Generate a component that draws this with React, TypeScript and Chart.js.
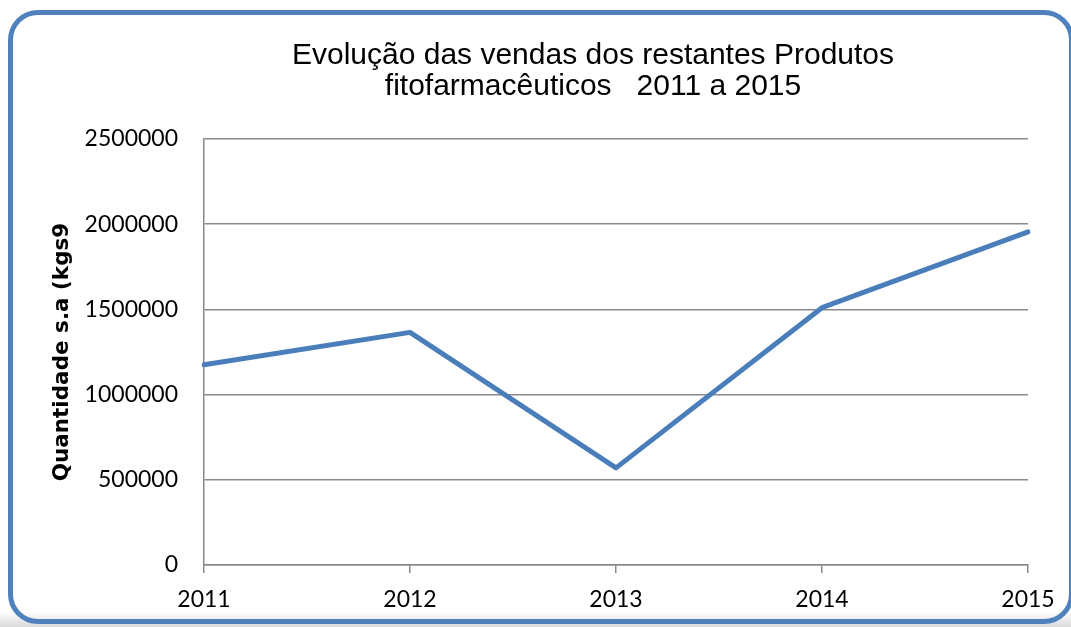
import React, { useEffect, useRef } from 'react';
import { Chart, registerables } from 'chart.js';

Chart.register(...registerables);

const categories = ['2011', '2012', '2013', '2014', '2015'];
const salesKg = [1175000, 1365000, 570000, 1510000, 1955000];
const yTickValues = [0, 500000, 1000000, 1500000, 2000000, 2500000];
const titleLines = ['Evolução das vendas dos restantes Produtos', 'fitofarmacêuticos   2011 a 2015'];
const yAxisTitle = 'Quantidade s.a (kgs9';

const GRID = '#898989';
const LINE = '#4a7ebb';

export default function App() {
  const ref = useRef<HTMLCanvasElement | null>(null);

  useEffect(() => {
    if (!ref.current) return;
    const chart = new Chart(ref.current, {
      type: 'line',
      data: {
        labels: categories,
        datasets: [
          {
            data: salesKg,
            yAxisID: 'y',
            borderColor: LINE,
            backgroundColor: LINE,
            borderWidth: 5,
            pointRadius: 0,
            tension: 0,
            borderCapStyle: 'round',
            borderJoinStyle: 'round',
          },
        ],
      },
      options: {
        responsive: false,
        animation: false,
        devicePixelRatio: 1,
        layout: { padding: { left: 0, right: -115, top: 0, bottom: 0 } },
        plugins: {
          legend: { display: false },
          tooltip: { enabled: false },
          title: {
            display: true,
            text: titleLines,
            color: '#000',
            font: { family: "'Liberation Sans', Arial, sans-serif", size: 30, weight: 'normal', lineHeight: 31 / 30 },
            padding: { top: 40, bottom: 37 },
          },
        },
        scales: {
          x: {
            offset: false,
            afterFit: (s: any) => {
              s.height = 62;
            },
            grid: {
              drawOnChartArea: false,
              drawTicks: true,
              tickLength: 8,
              color: GRID,
              lineWidth: 1.5,
            },
            border: { display: true, color: GRID, width: 1.5 },
            ticks: {
              color: '#000',
              padding: 13,
              maxRotation: 0,
              font: { family: 'Lato, sans-serif', size: 23 },
            },
          },
          y: {
            position: 'left',
            min: 0,
            max: 2500000,
            afterBuildTicks: (s: any) => {
              s.ticks = yTickValues.map((v) => ({ value: v }));
            },
            afterFit: (s: any) => {
              s.width = 204;
            },
            grid: {
              drawTicks: false,
              color: GRID,
              lineWidth: 1.5,
            },
            border: { display: true, color: GRID, width: 1.5 },
            ticks: {
              color: '#000',
              padding: 26,
              font: { family: 'Lato, sans-serif', size: 23 },
              callback: (v: any) => String(v),
            },
            title: {
              display: true,
              text: yAxisTitle,
              color: '#000',
              font: { family: "'DejaVu Sans', sans-serif", size: 21.5, weight: 'bold', lineHeight: 1.2 },
              padding: { top: 50, bottom: 0 },
            },
          },
          spacer: {
            type: 'linear',
            position: 'right',
            display: true,
            afterFit: (s: any) => {
              s.width = 158;
            },
            grid: { display: false, drawTicks: false },
            border: { display: false },
            ticks: { display: false },
          },
        },
      },
    });
    return () => chart.destroy();
  }, []);

  return (
    <div
      style={{
        position: 'absolute',
        left: 0,
        top: 0,
        width: 1071,
        height: 627,
        overflow: 'hidden',
        background: '#fff',
      }}
    >
      <div
        style={{
          position: 'absolute',
          left: 0,
          top: 612,
          width: 1071,
          height: 15,
          background: 'linear-gradient(#ffffff, #d9d9d9)',
        }}
      />
      <div
        style={{
          position: 'absolute',
          left: 8,
          top: 10,
          width: 1066,
          height: 614,
          boxSizing: 'border-box',
          border: '5px solid #4f81bd',
          borderRadius: 30,
        }}
      />
      <canvas ref={ref} width={1071} height={627} style={{ position: 'absolute', left: 0, top: 0 }} />
    </div>
  );
}
